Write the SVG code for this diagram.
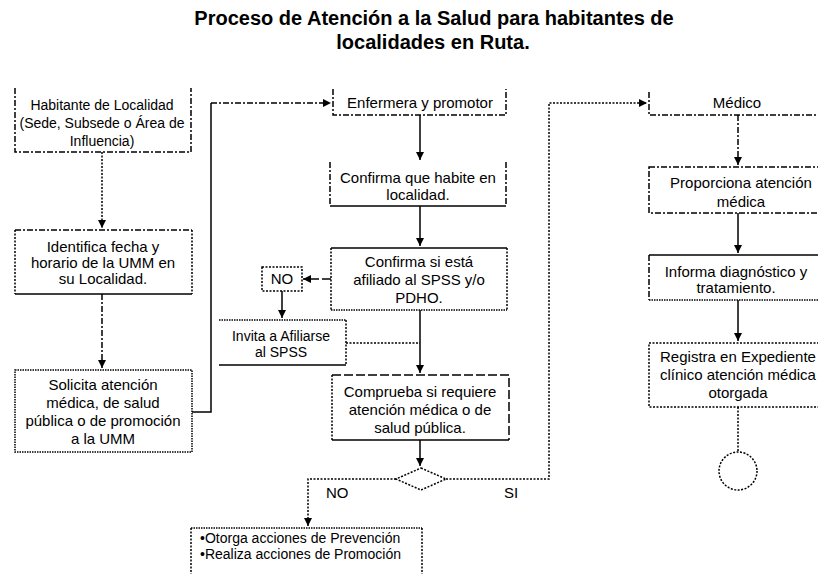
<svg xmlns="http://www.w3.org/2000/svg" width="818" height="574" viewBox="0 0 818 574">
<style>
  .b{fill:none;stroke:#000;stroke-width:1.5}
  .dd{stroke-dasharray:6 2 2 2}
  .dt{stroke-dasharray:2 1.5}
  .ds{stroke-dasharray:9 3}
  .wv{stroke-dasharray:1.5 1}
  .c{fill:none;stroke:#000;stroke-width:1.5}
  text{font-family:"Liberation Sans",Arial,sans-serif;font-size:15px;fill:#000}
  .m{text-anchor:middle}
  .s{font-size:14px}
  .t{font-size:20px;font-weight:bold;text-anchor:middle}
</style>
<defs>
  <marker id="ar" markerUnits="userSpaceOnUse" markerWidth="8" markerHeight="8" refX="8" refY="4" orient="auto">
    <path d="M0,0 L8,4 L0,8 z" fill="#000"/>
  </marker>
</defs>
<rect width="818" height="574" fill="#fff"/>

<g id="title">
  <text class="t" x="434" y="25">Proceso de Atención a la Salud para habitantes  de</text>
  <text class="t" x="433" y="49">localidades en Ruta.</text>
</g>

<g id="connectors">
  <path class="c dt" d="M102,152 V228" marker-end="url(#ar)"/>
  <path class="c dd" d="M102,294 V368" marker-end="url(#ar)"/>
  <path class="c" d="M192,412 H211 V103"/>
  <path class="c dd" d="M211,103 H331" marker-end="url(#ar)"/>
  <path class="c" d="M420,115 V160" marker-end="url(#ar)"/>
  <path class="c" d="M420,206 V246" marker-end="url(#ar)"/>
  <path class="c ds" d="M331,279 H303" marker-end="url(#ar)"/>
  <path class="c" d="M282,291 V318" marker-end="url(#ar)"/>
  <path class="c" d="M420,310 V373" marker-end="url(#ar)"/>
  <path class="c dt" d="M346,343 H420"/>
  <path class="c" d="M420,440 V466" marker-end="url(#ar)"/>
  <path class="c dt" d="M396,479 H308 V526" marker-end="url(#ar)"/>
  <path class="c dt" d="M446,479 H549 V103 H647" marker-end="url(#ar)"/>
  <path class="c dd" d="M738,115 V165" marker-end="url(#ar)"/>
  <path class="c" d="M738,213 V253" marker-end="url(#ar)"/>
  <path class="c" d="M738,300 V341" marker-end="url(#ar)"/>
  <path class="c dt" d="M738,407 V451"/>
</g>

<g id="habitante">
  <path class="b dd" d="M15,88 V152 H191 V88"/>
  <text class="m s" x="102" y="110">Habitante de Localidad</text>
  <text class="m s" x="102" y="128">(Sede, Subsede o Área de</text>
  <text class="m s" x="102" y="146">Influencia)</text>
</g>

<g id="identifica">
  <path class="b dd" d="M15,230 H192"/>
  <path class="b dt" d="M15,230 V294 M192,230 V294"/>
  <path class="b" d="M15,294 H192"/>
  <text class="m" x="103" y="252">Identifica fecha y</text>
  <text class="m" x="103" y="268">horario de la UMM en</text>
  <text class="m" x="103" y="284">su Localidad.</text>
</g>

<g id="solicita">
  <rect class="b wv" x="15" y="370" width="177" height="82"/>
  <text class="m" x="103" y="390">Solicita atención</text>
  <text class="m" x="103" y="408">médica, de salud</text>
  <text class="m" x="103" y="426">pública o de promoción</text>
  <text class="m" x="103" y="444">a la UMM</text>
</g>

<g id="enfermera">
  <path class="b dd" d="M333,89 V115 H506 V89"/>
  <text class="m" x="420" y="108">Enfermera y promotor</text>
</g>

<g id="confirma-localidad">
  <path class="b dd" d="M330,162 V206 M506,162 V206"/>
  <path class="b" d="M330,206 H506"/>
  <text class="m" x="418" y="183">Confirma que habite en</text>
  <text class="m" x="418" y="200">localidad.</text>
</g>

<g id="confirma-afiliado">
  <path class="b" d="M331,248 H507"/>
  <path class="b dt" d="M331,248 V310 M507,248 V310"/>
  <path class="b wv" d="M331,310 H507"/>
  <text class="m" x="419" y="267">Confirma si está</text>
  <text class="m" x="419" y="285">afiliado al SPSS y/o</text>
  <text class="m" x="419" y="303">PDHO.</text>
</g>

<g id="no-box">
  <rect class="b dt" x="262" y="267" width="40" height="24"/>
  <text class="m" x="282" y="284">NO</text>
</g>

<g id="invita">
  <path class="b wv" d="M219,320 H346"/>
  <path class="b dt" d="M346,320 V365"/>
  <path class="b" d="M219,365 H346"/>
  <text class="m s" x="281" y="341">Invita a Afiliarse</text>
  <text class="m s" x="281" y="357">al SPSS</text>
</g>

<g id="comprueba">
  <path class="b ds" d="M332,375 H509 V440"/>
  <path class="b dt" d="M332,375 V440"/>
  <path class="b" d="M332,440 H509"/>
  <text class="m" x="420" y="397">Comprueba si requiere</text>
  <text class="m" x="420" y="415">atención médica o de</text>
  <text class="m" x="420" y="433">salud pública.</text>
</g>

<g id="decision">
  <polygon class="b dt" points="421,468 446,479 421,490 396,479"/>
  <text x="326" y="498">NO</text>
  <text x="504" y="498">SI</text>
</g>

<g id="acciones">
  <path class="b wv" d="M191,528 H422"/>
  <path class="b dt" d="M191,528 V580 M422,528 V580"/>
  <text class="s" x="200" y="543">•Otorga acciones de Prevención</text>
  <text class="s" x="200" y="559">•Realiza acciones de Promoción</text>
</g>

<g id="medico">
  <path class="b dd" d="M649,92 V115 H830"/>
  <text class="m" x="737" y="108">Médico</text>
</g>

<g id="proporciona">
  <rect class="b dd" x="649" y="167" width="181" height="46"/>
  <text class="m" x="741" y="188">Proporciona atención</text>
  <text class="m" x="741" y="207">médica</text>
</g>

<g id="informa">
  <path class="b" d="M649,255 H830"/>
  <path class="b dd" d="M649,255 V300"/>
  <path class="b wv" d="M649,300 H830"/>
  <text class="m" x="736" y="277">Informa diagnóstico y</text>
  <text class="m" x="736" y="293">tratamiento.</text>
</g>

<g id="registra">
  <rect class="b dt" x="649" y="343" width="181" height="64"/>
  <text class="m" x="738" y="362">Registra en Expediente</text>
  <text class="m" x="738" y="380">clínico atención médica</text>
  <text class="m" x="738" y="398">otorgada</text>
</g>

<g id="fin">
  <circle class="b dt" cx="738" cy="471" r="19"/>
</g>
</svg>
